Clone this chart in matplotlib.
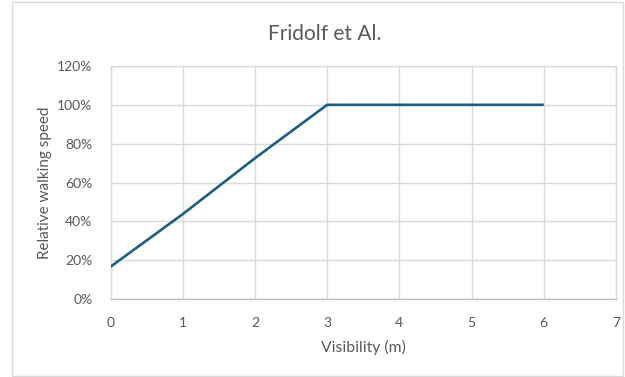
import matplotlib
matplotlib.use("Agg")
import matplotlib.pyplot as plt
from matplotlib.patches import Rectangle
from matplotlib.ticker import PercentFormatter

# Relative walking speed as a function of visibility
visibility_m = [0, 1, 2, 3, 4, 5, 6]
relative_speed = [0.166, 0.437, 0.725, 1.0, 1.0, 1.0, 1.0]

x_ticks = [0, 1, 2, 3, 4, 5, 6, 7]
y_ticks = [0.0, 0.2, 0.4, 0.6, 0.8, 1.0, 1.2]

plt.rcParams['font.family'] = ['Lato', 'DejaVu Sans']

W, H = 625, 377
fig = plt.figure(figsize=(W / 100, H / 100), dpi=100)
fig.patch.set_facecolor('white')

# chart-area border
fig.add_artist(Rectangle((12 / W, 1.5 / H), (W - 14) / W, (H - 3) / H,
                         transform=fig.transFigure, fill=False,
                         edgecolor='#D9D9D9', linewidth=1.0))

ax = fig.add_axes([110.5 / W, 1 - 299 / H, (616 - 110.5) / W, (299 - 66) / H])

ax.plot(visibility_m, relative_speed, color='#1C5F80', linewidth=1.9,
        solid_capstyle='butt', zorder=3)

ax.set_xlim(0, 7)
ax.set_ylim(0, 1.2)
ax.set_xticks(x_ticks)
ax.set_yticks(y_ticks)
ax.yaxis.set_major_formatter(PercentFormatter(1.0, decimals=0))

ax.grid(True, color='#D9D9D9', linewidth=1.0)
ax.set_axisbelow(True)
for side in ['top', 'right', 'left']:
    ax.spines[side].set_color('#D9D9D9')
    ax.spines[side].set_linewidth(1.0)
ax.spines['bottom'].set_color('#BFBFBF')
ax.spines['bottom'].set_linewidth(1.0)

ax.tick_params(axis='both', length=0, labelsize=10, colors='#595959')
ax.tick_params(axis='x', pad=13)
ax.tick_params(axis='y', pad=13)

ax.set_xlabel('Visibility (m)', fontsize=11.3, color='#595959', labelpad=8)
ax.set_ylabel('Relative walking speed', fontsize=11, color='#595959', labelpad=4)

fig.text(325 / W, 1 - 34 / H, 'Fridolf et Al.', fontsize=15, color='#595959',
         ha='center', va='center')

fig.savefig('out.png', dpi=100)
